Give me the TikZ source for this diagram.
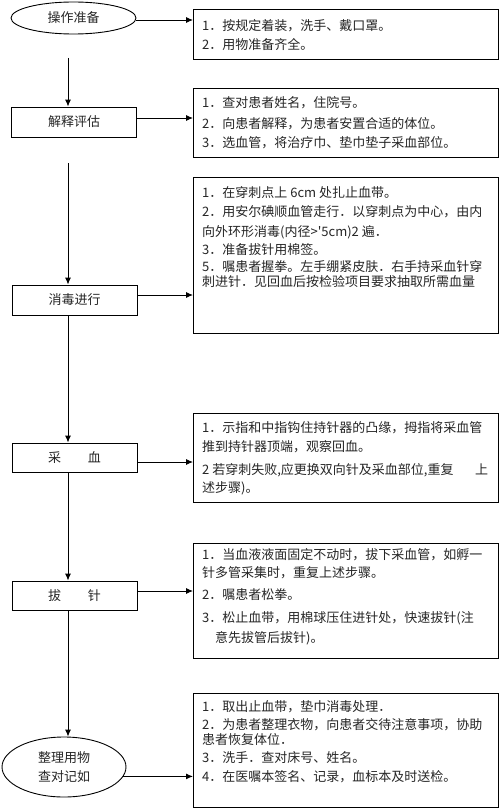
\documentclass[tikz,border=0pt]{standalone}
\usepackage{fontspec}
\newfontfamily\cjkf{Noto Sans CJK SC}
\usetikzlibrary{shapes.geometric,arrows.meta}
\newcommand\txl[4]{\node[tx] (#1) at (#2,#3) {#4};}
\begin{document}
\begin{tikzpicture}[x=1pt,y=-1pt,
  every node/.style={font=\cjkf\fontsize{13}{16}\selectfont, text=black!85},
  lbox/.style={draw, line width=0.9pt, minimum width=125pt, minimum height=30pt, inner sep=0pt},
  oval/.style={draw, ellipse, line width=0.9pt, inner sep=0pt},
  rbox/.style={draw, line width=0.9pt, minimum width=305pt, anchor=north west, inner sep=0pt},
  tx/.style={anchor=west, inner sep=0pt, text height=11pt, text depth=2pt},
  arr/.style={line width=0.9pt, -{Latex[length=7pt,width=6pt]}},
]
\useasboundingbox (0,0) rectangle (500,808);
\fill[white] (0,0) rectangle (500,808);

% left column
\node[oval, minimum width=125pt, minimum height=32pt] (e1) at (73.5,18) {操作准备};
\node[lbox] (n2) at (74,122) {解释评估};
\node[lbox] (n3) at (74.5,300) {消毒进行};
\node[lbox, minimum height=29pt] (n4) at (74.5,457.5) {采\hspace{27pt}血};
\node[lbox, minimum height=29pt] (n5) at (74.5,595.5) {拔\hspace{27pt}针};
\node[oval, minimum width=124pt, minimum height=60pt, align=center] (e2) at (64,767) {整理用物\\[3pt]查对记如};

% right boxes
\node[rbox, minimum height=50pt] (b1) at (193,9) {};
\node[rbox, minimum height=69pt] (b2) at (193,88) {};
\node[rbox, minimum height=156pt] (b3) at (193,177) {};
\node[rbox, minimum height=89pt] (b4) at (193,413) {};
\node[rbox, minimum height=115pt] (b5) at (193,543) {};
\node[rbox, minimum height=114pt] (b6) at (193,693) {};

% texts
\txl{t11}{202}{26}{1．按规定着装，洗手、戴口罩。}
\txl{t12}{202}{45}{2．用物准备齐全。}

\txl{t21}{202}{103}{1．查对患者姓名，住院号。}
\txl{t22}{202}{124}{2．向患者解释，为患者安置合适的体位。}
\txl{t23}{202}{143}{3．选血管，将治疗巾、垫巾垫子采血部位。}

\txl{t31}{202}{193}{1．在穿刺点上 6cm 处扎止血带。}
\txl{t32}{202}{212}{2．用安尔碘顺血管走行．以穿刺点为中心，由内}
\txl{t33}{202}{232}{向外环形消毒(内径>'5cm)2 遍．}
\txl{t34}{202}{250}{3．准备拔针用棉签。}
\txl{t35}{202}{267}{5．嘱患者握拳。左手绷紧皮肤．右手持采血针穿}
\txl{t36}{202}{282}{刺进针．见回血后按检验项目要求抽取所需血量}

\txl{t41}{202}{428}{1．示指和中指钩住持针器的凸缘，拇指将采血管}
\txl{t42}{202}{447}{推到持针器顶端，观察回血。}
\txl{t43}{202}{470}{\makebox[286pt][l]{2 若穿刺失败,应更换双向针及采血部位,重复\hfill 上}}
\txl{t44}{202}{488}{述步骤)。}

\txl{t51}{202}{555}{1．当血液液面固定不动时，拔下采血管，如孵一}
\txl{t52}{202}{573}{针多管采集时，重复上述步骤。}
\txl{t53}{202}{595}{2．嘱患者松拳。}
\txl{t54}{202}{618}{3．松止血带，用棉球压住进针处，快速拔针(注}
\txl{t55}{215}{638}{意先拔管后拔针)。}

\txl{t61}{202}{707}{1．取出止血带，垫巾消毒处理．}
\txl{t62}{202}{725}{2．为患者整理衣物，向患者交待注意事项，协助}
\txl{t63}{202}{740}{患者恢复体位．}
\txl{t64}{202}{758}{3．洗手．查对床号、姓名。}
\txl{t65}{202}{777}{4．在医嘱本签名、记录，血标本及时送检。}

% horizontal arrows
\draw[arr] ([yshift=-2pt]e1.east) -- ([yshift=-2pt]e1.east -| b1.west);
\draw[arr] ([yshift=4pt]n2.east) -- ([yshift=4pt]n2.east -| b2.west);
\draw[arr] ([yshift=5pt]n3.east) -- ([yshift=5pt]n3.east -| b3.west);
\draw[arr] ([yshift=-4.5pt]n4.east) -- ([yshift=-4.5pt]n4.east -| b4.west);
\draw[arr] ([yshift=4.5pt]n5.east) -- ([yshift=4.5pt]n5.east -| b5.west);
\draw[arr] (e2.-9.7) -- (e2.-9.7 -| b6.west);

% vertical arrows
\coordinate (v1) at (68,58);
\coordinate (v2) at (68,163);
\draw[arr] (v1) -- (v1 |- n2.north);
\draw[arr] (v2) -- (v2 |- n3.north);
\draw[arr] (v2 |- n3.south) -- (v2 |- n4.north);
\draw[arr] (v2 |- n4.south) -- (v2 |- n5.north);
\draw[arr] (v2 |- n5.south) -- (v2 |- e2.north);
\end{tikzpicture}
\end{document}
